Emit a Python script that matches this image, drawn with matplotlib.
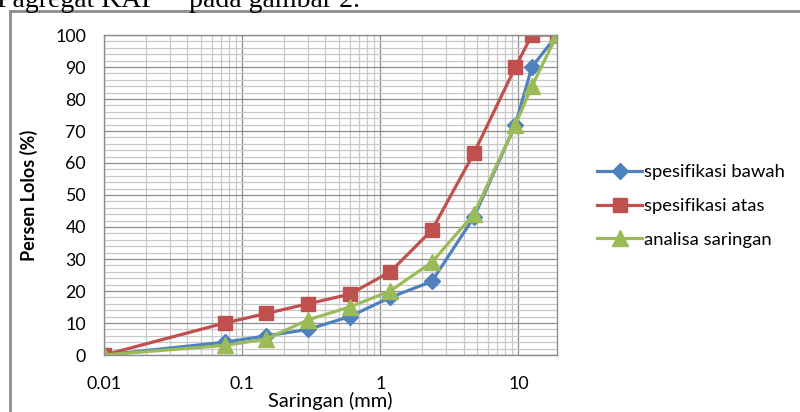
import numpy as np
import matplotlib
matplotlib.use("Agg")
import matplotlib.pyplot as plt
from matplotlib.patches import Rectangle
from matplotlib.ticker import FixedLocator, LogLocator, NullFormatter, MultipleLocator

saringan = [0.01, 0.075, 0.15, 0.3, 0.6, 1.18, 2.36, 4.75, 9.5, 12.5, 19]
spek_bawah = [0, 4, 6, 8, 12, 18, 23, 43, 72, 90, 100]
spek_atas = [0, 10, 13, 16, 19, 26, 39, 63, 90, 100, 100]
analisa = [0, 3, 5, 11, 15, 20, 29, 44, 72, 84, 100]
xticks = [0.01, 0.1, 1, 10]
xticklabels = ["0.01", "0.1", "1", "10"]

plt.rcParams['font.family'] = ['Lato', 'DejaVu Sans']

fig = plt.figure(figsize=(8, 4.12), dpi=100)
W, H = 800, 412

# outer chart frame (cropped screenshot)
fig.patches.append(Rectangle((10 / W, -0.1), 1.2, 1 - 11 / H + 0.1, transform=fig.transFigure,
                             fill=False, edgecolor='#8c8c8c', linewidth=2))
fig.text(-3 / W, 1 - 7 / H, 'Pagregat KAP"   pada gambar 2.', family='Liberation Serif',
         fontsize=20, va='baseline', ha='left')

ax = fig.add_axes([104 / W, 1 - 355 / H, (557 - 104) / W, (355 - 35) / H])

ax.plot(saringan, spek_bawah, color='#4F81BD', lw=2.3, marker='D', ms=8, label='spesifikasi bawah')
ax.plot(saringan, spek_atas, color='#C0504D', lw=2.3, marker='s', ms=10, label='spesifikasi atas')
ax.plot(saringan, analisa, color='#9BBB59', lw=2.3, marker='^', ms=11, label='analisa saringan')

ax.set_xscale('log')
ax.set_xlim(0.01, 19)
ax.set_ylim(0, 100)
ax.xaxis.set_major_locator(FixedLocator(xticks))
ax.set_xticklabels(xticklabels)
ax.xaxis.set_minor_locator(LogLocator(base=10, subs=np.arange(2, 10)))
ax.xaxis.set_minor_formatter(NullFormatter())
ax.yaxis.set_major_locator(MultipleLocator(10))
ax.yaxis.set_minor_locator(MultipleLocator(2))

ax.grid(which='major', color='#8c8c8c', lw=0.9)
ax.grid(which='minor', color='#c8c8c8', lw=0.9)
ax.set_axisbelow(True)
for s in ax.spines.values():
    s.set_color('#8c8c8c')
    s.set_linewidth(1)

ax.tick_params(which='both', length=0, labelsize=12.8)
ax.tick_params(axis='x', pad=15)
ax.tick_params(axis='y', pad=13)

ax.set_ylabel('Persen Lolos (%)', fontsize=13, fontweight='bold', labelpad=12)
ax.set_xlabel('Saringan (mm)', fontsize=14.5, labelpad=0)

ax.legend(loc='center left', bbox_to_anchor=(590 / W, 1 - 206 / H), bbox_transform=fig.transFigure,
          frameon=False, fontsize=13.3, handlelength=2.4, handletextpad=0.1, labelspacing=0.95,
          borderaxespad=0)

fig.savefig('out.png', dpi=100)
